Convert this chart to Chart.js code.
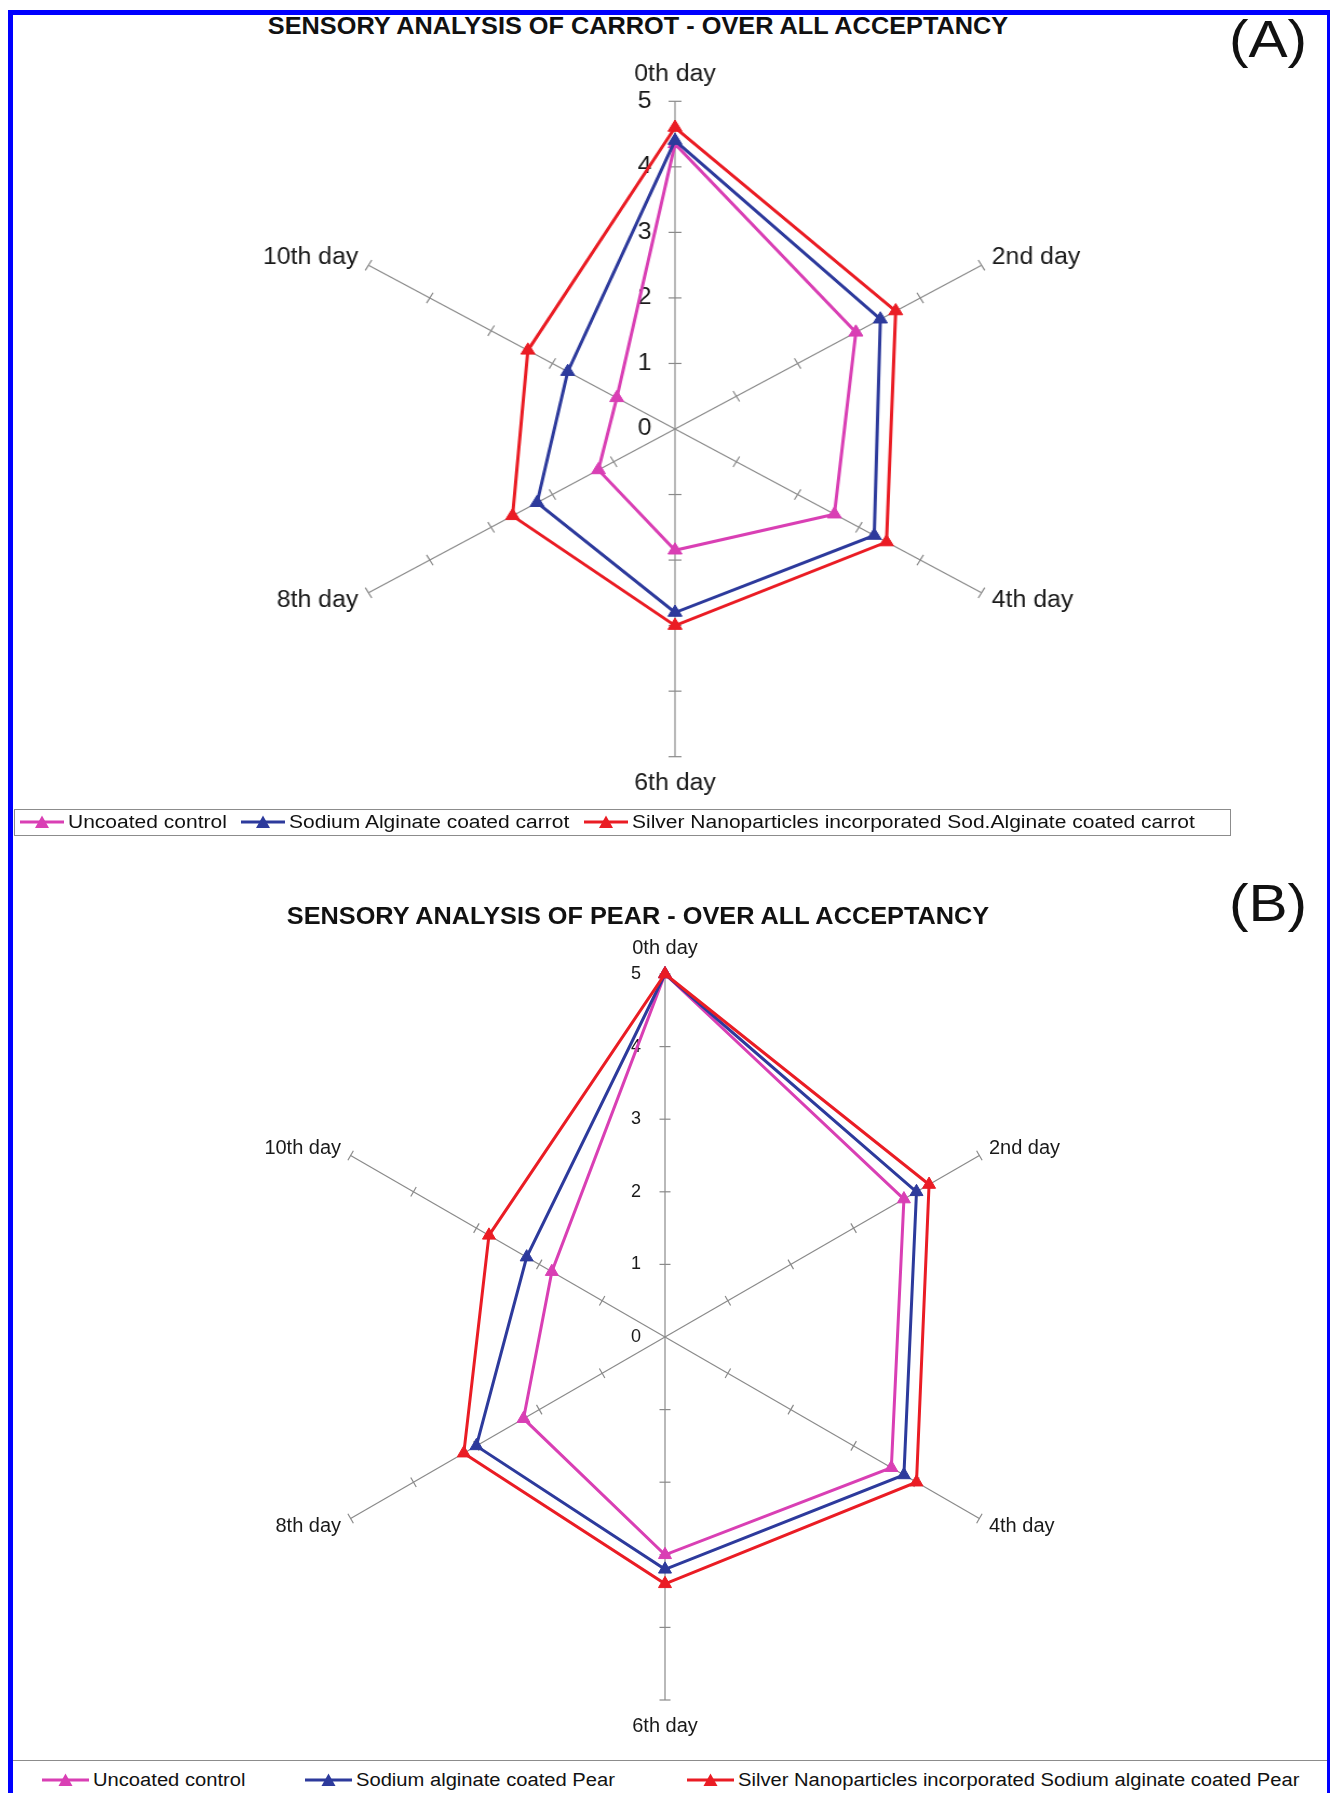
<!DOCTYPE html>
<html>
<head>
<meta charset="utf-8">
<script src="https://cdn.jsdelivr.net/npm/chart.js@4.4.1/dist/chart.umd.min.js"></script>
<style>
html,body{margin:0;padding:0;background:#fff;}
body{width:1330px;height:1793px;position:relative;overflow:hidden;font-family:"Liberation Sans",Arial,sans-serif;color:#111;}
#frame{position:absolute;left:8px;top:10px;width:1324px;height:1800px;box-sizing:border-box;border-left:5px solid #0000ff;border-top:5px solid #0000ff;border-right:5px solid #0000ff;}
.txt{position:absolute;white-space:nowrap;line-height:1;}
.ctr{transform-origin:50% 50%;}
.lft{transform-origin:0 50%;}
canvas{position:absolute;}
#boxA{position:absolute;left:14px;top:809px;width:1217px;height:27px;box-sizing:border-box;border:1px solid #8c8c8c;}
#sepB{position:absolute;left:13px;top:1760px;width:1314px;height:0;border-top:1.5px solid #8c8c8c;}
</style>
</head>
<body>
<div id="frame"></div>
<div id="boxA"></div>
<div id="sepB"></div>
<canvas id="chartA" width="1200" height="775" style="left:27px;top:42px;width:1296px;height:775px;"></canvas>
<canvas id="chartB" width="1200" height="842" style="left:65px;top:916px;width:1200px;height:842px;"></canvas>
<div id="texts"></div>
<script>
// ---------------- data ----------------
const dayLabels = ['0th day', '2nd day', '4th day', '6th day', '8th day', '10th day'];
const tickLabels = ['0', '1', '2', '3', '4', '5'];

const carrotTitle = 'SENSORY ANALYSIS OF CARROT - OVER ALL ACCEPTANCY';
const pearTitle = 'SENSORY ANALYSIS OF PEAR - OVER ALL ACCEPTANCY';

const carrotNames = ['Uncoated control', 'Sodium Alginate coated carrot', 'Silver Nanoparticles incorporated Sod.Alginate coated carrot'];
const carrotUncoated = [4.35, 2.95, 2.6, 1.85, 1.25, 0.95];
const carrotAlginate = [4.4, 3.35, 3.25, 2.8, 2.25, 1.75];
const carrotSilver = [4.6, 3.6, 3.45, 3.0, 2.65, 2.4];

const pearNames = ['Uncoated control', 'Sodium alginate coated Pear', 'Silver Nanoparticles incorporated Sodium alginate coated Pear'];
const pearUncoated = [5, 3.8, 3.6, 3.0, 2.25, 1.8];
const pearAlginate = [5, 4.0, 3.8, 3.2, 3.0, 2.2];
const pearSilver = [5, 4.2, 4.0, 3.4, 3.2, 2.8];

const seriesColors = ['#d93fb4', '#2d3a9c', '#ea1c24'];

// ---------------- helpers ----------------
Chart.defaults.font.family = "'Liberation Sans', Arial, sans-serif";
Chart.defaults.color = '#1a1a1a';

const axisTicks = {
  id: 'axisTicks',
  beforeDatasetsDraw(chart, args, o) {
    const s = chart.scales.r, ctx = chart.ctx;
    const n = chart.data.labels.length;
    ctx.save();
    ctx.strokeStyle = o.color;
    ctx.lineWidth = o.width;
    for (let i = 0; i < n; i++) {
      const ang = s.getIndexAngle(i) - Math.PI / 2;
      const px = -Math.sin(ang), py = Math.cos(ang);
      for (let k = 1; k < tickLabels.length; k++) {
        const p = s.getPointPositionForValue(i, Number(tickLabels[k]));
        ctx.beginPath();
        ctx.moveTo(p.x - px * o.len, p.y - py * o.len);
        ctx.lineTo(p.x + px * o.len, p.y + py * o.len);
        ctx.stroke();
      }
    }
    ctx.fillStyle = o.labelColor;
    ctx.font = o.font;
    ctx.textAlign = 'center';
    ctx.textBaseline = 'middle';
    tickLabels.forEach(t => {
      const p = s.getPointPositionForValue(0, Number(t));
      ctx.fillText(t, p.x - o.labelOffset, p.y);
    });
    ctx.restore();
  }
};

function makeRadar(id, series, names, o) {
  const datasets = series.map((d, i) => ({
    label: names[i],
    data: d,
    borderColor: seriesColors[i],
    backgroundColor: seriesColors[i],
    pointBackgroundColor: seriesColors[i],
    pointBorderColor: seriesColors[i],
    borderWidth: 3,
    pointStyle: 'triangle',
    pointRadius: o.pointRadius,
    pointBorderWidth: 1,
    fill: false,
    order: series.length - i
  }));
  return new Chart(document.getElementById(id), {
    type: 'radar',
    data: { labels: dayLabels, datasets },
    options: {
      responsive: false,
      maintainAspectRatio: false,
      animation: false,
      events: [],
      layout: { padding: { top: 30, bottom: 30, left: 0, right: 0 } },
      plugins: {
        legend: { display: false },
        title: { display: false },
        tooltip: { enabled: false },
        axisTicks: {
          color: '#8a8a8a', width: 1.2, len: o.tickLen,
          labelColor: '#1a1a1a', font: o.tickFont + "px 'Liberation Sans', Arial, sans-serif",
          labelOffset: o.labelOffset
        }
      },
      elements: { line: { tension: 0 } },
      scales: {
        r: {
          min: 0, max: 5,
          ticks: { display: false, stepSize: 1 },
          grid: { display: false },
          angleLines: { display: true, color: '#8a8a8a', lineWidth: 1.2 },
          pointLabels: {
            display: true,
            color: '#1a1a1a',
            font: { size: o.labelFont, lineHeight: 0.2 },
            padding: ctx => o.labelPad[ctx.index]
          }
        }
      }
    },
    plugins: [axisTicks]
  });
}

makeRadar('chartA', [carrotUncoated, carrotAlginate, carrotSilver], carrotNames,
  { pointRadius: 7.5, tickLen: 6, tickFont: 23, labelOffset: 28, labelFont: 23,
    labelPad: [24.7, 11, 11, 24.7, 11, 11] });
makeRadar('chartB', [pearUncoated, pearAlginate, pearSilver], pearNames,
  { pointRadius: 7.5, tickLen: 5.5, tickFont: 18, labelOffset: 29, labelFont: 20,
    labelPad: [24, 11, 11, 24, 11, 11] });

// ---------------- titles & legends (HTML text) ----------------
const T = document.getElementById('texts');
function addText(str, x, y, size, weight, sx, center) {
  const d = document.createElement('div');
  d.className = 'txt ' + (center ? 'ctr' : 'lft');
  d.textContent = str;
  d.style.fontSize = size + 'px';
  d.style.fontWeight = weight;
  d.style.left = x + 'px';
  d.style.top = (y - size / 2) + 'px';
  d.style.height = size + 'px';
  d.style.transform = center ? `translateX(-50%) scaleX(${sx})` : `scaleX(${sx})`;
  T.appendChild(d);
  return d;
}
function addMarker(color, x, y, len) {
  const ns = 'http://www.w3.org/2000/svg';
  const svg = document.createElementNS(ns, 'svg');
  svg.setAttribute('width', len); svg.setAttribute('height', 16);
  svg.style.position = 'absolute'; svg.style.left = x + 'px'; svg.style.top = (y - 8) + 'px';
  const ln = document.createElementNS(ns, 'line');
  ln.setAttribute('x1', 0); ln.setAttribute('x2', len); ln.setAttribute('y1', 8); ln.setAttribute('y2', 8);
  ln.setAttribute('stroke', color); ln.setAttribute('stroke-width', 2.8);
  const tr = document.createElementNS(ns, 'polygon');
  const c = len / 2;
  tr.setAttribute('points', `${c},1.5 ${c + 7},14 ${c - 7},14`);
  tr.setAttribute('fill', color);
  svg.appendChild(ln); svg.appendChild(tr);
  T.appendChild(svg);
}

addText(carrotTitle, 638, 26, 23, 'bold', 1.1, true);
addText('(A)', 1268, 39, 51, 'normal', 1.15, true);
addText(pearTitle, 638, 916, 23, 'bold', 1.1, true);
addText('(B)', 1268, 903, 51, 'normal', 1.15, true);

const legAx = [20, 241, 584];
carrotNames.forEach((n, i) => {
  addMarker(seriesColors[i], legAx[i], 822, 44);
  addText(n, legAx[i] + 48, 822, 18, 'normal', 1.167, false);
});
const legBx = [42, 305, 687];
pearNames.forEach((n, i) => {
  addMarker(seriesColors[i], legBx[i], 1780, 47);
  addText(n, legBx[i] + 51, 1780, 18, 'normal', 1.12, false);
});
</script>
</body>
</html>
